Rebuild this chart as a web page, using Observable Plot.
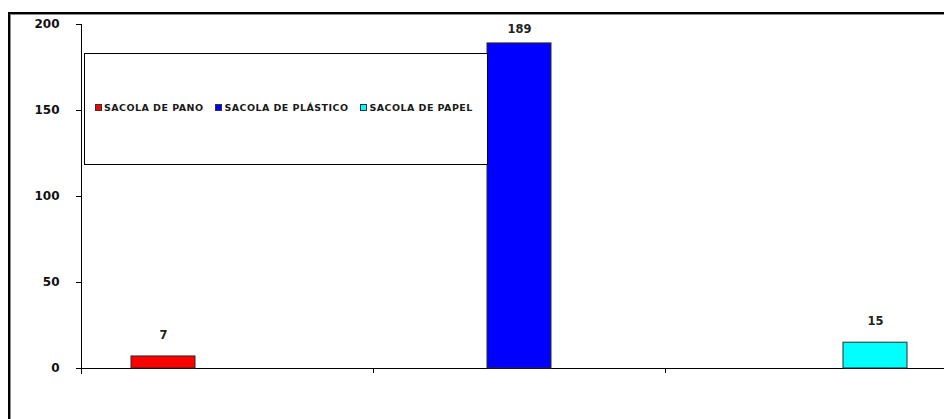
<!DOCTYPE html>
<html>
<head>
<meta charset="utf-8">
<script src="https://cdn.jsdelivr.net/npm/d3@7"></script>
<script src="https://cdn.jsdelivr.net/npm/@observablehq/plot@0.6"></script>
<style>
  html, body { margin: 0; padding: 0; background: #fff; overflow: hidden; width: 944px; height: 419px; }
  #wrap { position: relative; width: 944px; height: 419px; }
  #wrap svg { display: block; }
  #border {
    position: absolute; left: 8px; top: 12px; width: 1000px; height: 1000px;
    border: 2px solid #000; box-shadow: inset 1px 1px 0 #8a8a8a; pointer-events: none;
  }
  #legend {
    position: absolute; left: 84px; top: 53px; width: 392px; height: 106px;
    padding: 0 0 4px 10px; border: 1px solid #000; background: #fff;
    display: flex; align-items: center; white-space: nowrap;
  }
  #legend .item {
    display: flex; align-items: center; flex: none; margin-right: 12px;
    font: bold 9.5px "DejaVu Sans", sans-serif; letter-spacing: 0.45px; color: #1a1a1a;
  }
  #legend .sw { flex: none; width: 5px; height: 5px; border: 1px solid #333; margin-right: 2px; }
</style>
</head>
<body>
<div id="wrap"></div>
<script>
// Bag types (one bar each), their counts and the group each bar sits in
const series = ["SACOLA DE PANO", "SACOLA DE PLÁSTICO", "SACOLA DE PAPEL"];
const values = [7, 189, 15];
const groups = ["1", "2", "3"];
const colors = ["#ff0000", "#0000ff", "#00ffff"];
const yTicks = [0, 50, 100, 150, 200];
const yDomain = [0, 200];

const rows = series.map((s, i) => ({group: groups[i], series: s, value: values[i]}));

// value labels never rise above this level, so they stay inside the plot area
const labelCeiling = 185;

const chart = Plot.plot({
  width: 944,
  height: 419,
  marginLeft: 80,
  marginTop: 24,
  marginBottom: 51,
  marginRight: -13.5,
  style: {background: "transparent", fontFamily: "DejaVu Sans, sans-serif"},
  fx: {domain: groups, padding: 0, axis: null},
  x: {domain: series, paddingInner: 0, paddingOuter: 0.767, axis: null},
  y: {domain: yDomain},
  color: {domain: series, range: colors},
  marks: [
    Plot.ruleY([0], {stroke: "#000", strokeWidth: 1}),
    Plot.frame({anchor: "left", facetAnchor: "left", insetBottom: -5, stroke: "#000"}),
    Plot.barY(rows, {
      fx: "group", x: "series", y: "value",
      fill: "series", stroke: "#2a2a2a", strokeWidth: 1
    }),
    Plot.text(rows, {
      fx: "group", x: "series",
      y: d => Math.min(d.value, labelCeiling),
      text: d => String(d.value),
      dy: -21, fontSize: 11.5, fontWeight: "bold", fill: "#222"
    }),
    Plot.axisY({
      ticks: yTicks, tickSize: 5, tickPadding: 17, label: null,
      tickFormat: d => String(d), fontSize: 12, fontWeight: "bold",
      stroke: "#000", color: "#111"
    })
  ]
});

// category boundary ticks below the x axis
const fx = chart.scale("fx");
const y0 = chart.scale("y").apply(0);
const bounds = groups.map(g => fx.apply(g)).concat(fx.apply(groups[groups.length - 1]) + fx.bandwidth);
d3.select(chart).append("g")
  .attr("stroke", "#000")
  .selectAll("line")
  .data(bounds)
  .join("line")
  .attr("x1", d => Math.round(d) + 0.5)
  .attr("x2", d => Math.round(d) + 0.5)
  .attr("y1", y0)
  .attr("y2", y0 + 5);

const wrap = d3.select("#wrap");
wrap.node().appendChild(chart);

// legend box
const legend = wrap.append("div").attr("id", "legend");
const item = legend.selectAll(".item").data(series).join("div").attr("class", "item");
item.append("span").attr("class", "sw").style("background", (d, i) => colors[i]);
item.append("span").text(d => d);

wrap.append("div").attr("id", "border");
</script>
</body>
</html>
